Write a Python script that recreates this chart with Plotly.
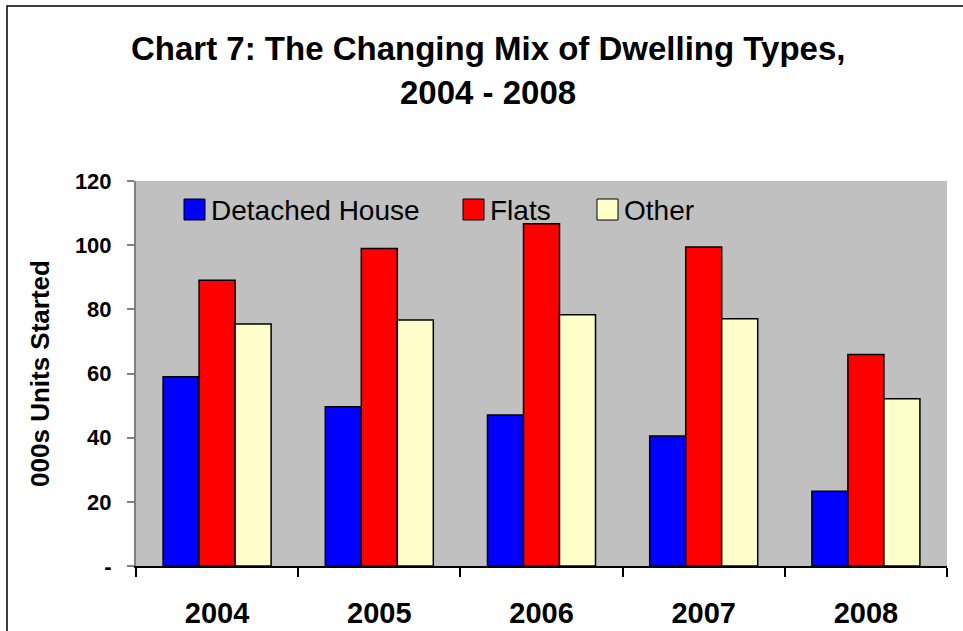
import plotly.graph_objects as go

years = ["2004", "2005", "2006", "2007", "2008"]
series_names = ["Detached House", "Flats", "Other"]
detached = [59.0, 49.6, 47.1, 40.5, 23.3]
flats = [89.1, 99.0, 106.7, 99.4, 65.9]
other = [75.4, 76.7, 78.3, 77.1, 52.1]
colors = ["#0000FF", "#FF0000", "#FFFFCC"]
y_ticks = [0, 20, 40, 60, 80, 100, 120]
y_ticktext = ["-", "20", "40", "60", "80", "100", "120"]
title_lines = ["Chart 7: The Changing Mix of Dwelling Types,", "2004 - 2008"]

FONT = "Liberation Sans, Arial, sans-serif"

fig = go.Figure()
for name, vals, col in zip(series_names, [detached, flats, other], colors):
    fig.add_trace(go.Bar(
        x=years, y=vals, name=name, showlegend=False,
        marker=dict(color=col, line=dict(color="#000000", width=1.5)),
    ))

W, H = 963, 631
ml, mt = 136, 181
pw, ph = 811, 385
mr = W - ml - pw
mb = H - mt - ph

def px_x(x):
    return (x - ml) / pw

def px_y(y):
    return (mt + ph - y) / ph

shapes = []
annotations = []
# outer frame
shapes.append(dict(type="rect", xref="paper", yref="paper",
                   x0=px_x(7), x1=px_x(1000), y0=px_y(700), y1=px_y(6),
                   line=dict(color="#000000", width=1.5), fillcolor="rgba(0,0,0,0)"))
# title (two lines)
for line, cy in zip(title_lines, [48, 93]):
    annotations.append(dict(xref="paper", yref="paper", x=px_x(488), y=px_y(cy),
                            xanchor="center", yanchor="middle", showarrow=False,
                            text="<b>%s</b>" % line,
                            font=dict(family=FONT, size=33, color="#000000")))
# manual legend
leg_x = [184, 463, 597]
for name, col, lx in zip(series_names, colors, leg_x):
    shapes.append(dict(type="rect", xref="paper", yref="paper",
                       x0=px_x(lx), x1=px_x(lx + 21), y0=px_y(220), y1=px_y(199),
                       fillcolor=col, line=dict(color="#000000", width=1)))
    annotations.append(dict(xref="paper", yref="paper", x=px_x(lx + 25), y=px_y(210),
                            xanchor="left", yanchor="middle", showarrow=False,
                            text=name, font=dict(family=FONT, size=28, color="#000000")))

fig.update_layout(
    width=W, height=H,
    margin=dict(l=ml, r=mr, t=mt, b=mb, autoexpand=False),
    paper_bgcolor="#FFFFFF",
    plot_bgcolor="#C0C0C0",
    barmode="group",
    bargap=0.334,
    bargroupgap=0,
    font=dict(family=FONT, color="#000000"),
    shapes=shapes,
    annotations=annotations,
)
fig.update_xaxes(
    automargin=False,
    showline=True, linecolor="#000000", linewidth=1.5,
    ticks="outside", ticklen=9, tickcolor="#000000", tickwidth=1.5,
    tickson="boundaries",
    tickfont=dict(family=FONT, size=29, color="#000000"),
    tickprefix="<b>", ticksuffix="</b>",
    ticklabelstandoff=20,
    showgrid=False, zeroline=False,
)
fig.update_yaxes(
    automargin=False,
    range=[0, 120], tickvals=y_ticks, ticktext=["<b>%s</b>" % t for t in y_ticktext],
    showline=True, linecolor="#808080", linewidth=2,
    ticks="outside", ticklen=7, tickcolor="#808080", tickwidth=1.5,
    tickfont=dict(family=FONT, size=22, color="#000000"),
    ticklabelstandoff=11,
    showgrid=False, zeroline=False,
    title=dict(text="<b>000s Units Started</b>", standoff=18,
               font=dict(family=FONT, size=26, color="#000000")),
)

fig.write_html("out.html", config={"displayModeBar": False},
               post_script="document.body.style.margin='0';document.body.style.overflow='hidden';")
